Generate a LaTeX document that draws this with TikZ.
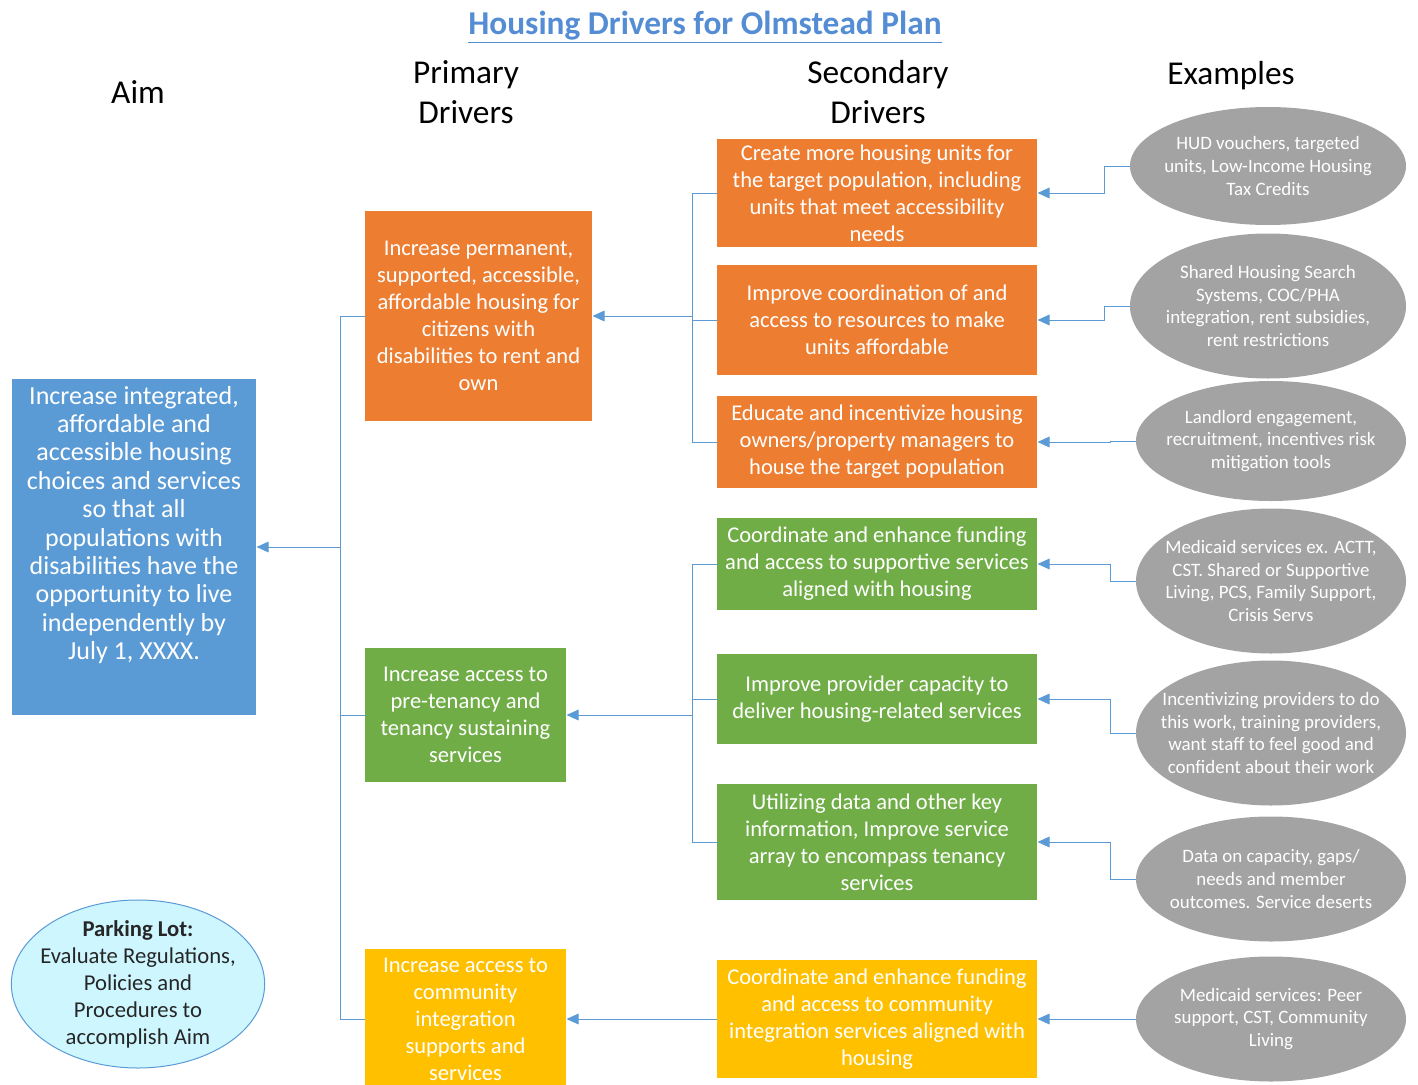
\documentclass[tikz,border=0pt]{standalone}
\usepackage{fontspec}
\setmainfont{Carlito}
\usetikzlibrary{shapes.geometric,arrows.meta}

\definecolor{aimblue}{RGB}{91,155,213}
\definecolor{drvorange}{RGB}{237,125,49}
\definecolor{drvgreen}{RGB}{112,173,71}
\definecolor{drvyellow}{RGB}{255,192,0}
\definecolor{exgrey}{RGB}{163,163,163}
\definecolor{parkcyan}{RGB}{206,246,255}
\definecolor{connblue}{RGB}{91,155,213}
\definecolor{titleblue}{RGB}{84,141,212}

\tikzset{every picture/.style={line width=0.75pt}}
\tikzset{
  drvbox/.style={rectangle, inner sep=0pt, align=center, text=white},
  aimbox/.style={drvbox, fill=aimblue},
  aimtext/.style={align=center, text=white, font=\fontsize{19.5}{21.3}\selectfont},
  primbox/.style={drvbox, font=\fontsize{16.9}{20.25}\selectfont},
  secbox/.style={drvbox, minimum width=240pt, font=\fontsize{16.9}{20.25}\selectfont},
  exnode/.style={ellipse, fill=exgrey, inner sep=0pt},
  extext/.style={align=center, text=white, font=\fontsize{14.2}{16.9}\selectfont},
  parknode/.style={ellipse, fill=parkcyan, draw=connblue, inner sep=0pt},
  parktext/.style={align=center, text=black!85, font=\fontsize{17}{20.25}\selectfont},
  header/.style={align=center, font=\fontsize{25}{30}\selectfont},
  conn/.style={draw=connblue, line width=0.75pt},
  arrconn/.style={conn, -{Triangle[length=9pt,width=8pt]}},
}

\begin{document}
\begin{tikzpicture}[x=0.75pt,y=0.75pt,yscale=-1,xscale=1]
\useasboundingbox (0,0) rectangle (1418,1085);

% title and column heads
\node[text=titleblue, font=\fontsize{25}{30}\selectfont\bfseries] (title) at (705,27) {\underline{Housing Drivers for Olmstead Plan}};
\node[header] (haim) at (138,92) {Aim};
\node[header] (hprim) at (466,92) {Primary\\Drivers};
\node[header] (hsec) at (878,92) {Secondary\\Drivers};
\node[header] (hex) at (1231,76) {Examples};

% aim
\node[aimbox, minimum width=183pt, minimum height=252pt] (aim) at (134,547) {};
\node[aimtext, anchor=north] (aimtxt) at ([yshift=2pt]aim.north) {Increase integrated,\\affordable and\\accessible housing\\choices and services\\so that all\\populations with\\disabilities have the\\opportunity to live\\independently by\\July 1, XXXX.};

% primary drivers
\node[primbox, fill=drvorange, minimum width=170.25pt, minimum height=157.5pt] (p1) at (478.5,316) {Increase permanent,\\supported, accessible,\\affordable housing for\\citizens with\\disabilities to rent and\\own};
\node[primbox, fill=drvgreen, minimum width=150.75pt, minimum height=100.5pt] (p2) at (465.5,715) {Increase access to\\pre-tenancy and\\tenancy sustaining\\services};
\node[primbox, fill=drvyellow, minimum width=150.75pt, minimum height=105pt] (p3) at (465.5,1019) {Increase access to\\community\\integration\\supports and\\services};

% secondary drivers
\node[secbox, fill=drvorange, minimum height=81pt] (s1) at (877,193) {Create more housing units for\\the target population, including\\units that meet accessibility\\needs};
\node[secbox, fill=drvorange, minimum height=82.5pt] (s2) at (877,320) {Improve coordination of and\\access to resources to make\\units affordable};
\node[secbox, fill=drvorange, minimum height=69pt] (s3) at (877,442) {Educate and incentivize housing\\owners/property managers to\\house the target population};
\node[secbox, fill=drvgreen, minimum height=69pt] (s4) at (877,564) {Coordinate and enhance funding\\and access to supportive services\\aligned with housing};
\node[secbox, fill=drvgreen, minimum height=67.5pt] (s5) at (877,699) {Improve provider capacity to\\deliver housing-related services};
\node[secbox, fill=drvgreen, minimum height=87pt] (s6) at (877,842) {Utilizing data and other key\\information, Improve service\\array to encompass tenancy\\services};
\node[secbox, fill=drvyellow, minimum height=88.5pt] (s7) at (877,1019) {Coordinate and enhance funding\\and access to community\\integration services aligned with\\housing};

% examples
\node[exnode, minimum width=207pt, minimum height=88.5pt, label={[extext]center:{HUD vouchers, targeted\\units, Low-Income Housing\\Tax Credits}}] (e1) at (1268,166) {};
\node[exnode, minimum width=207pt, minimum height=108.75pt, label={[extext]center:{Shared Housing Search\\Systems, COC/PHA\\integration, rent subsidies,\\rent restrictions}}] (e2) at (1268,306) {};
\node[exnode, minimum width=202.5pt, minimum height=90pt, label={[extext]center:{Landlord engagement,\\recruitment, incentives risk\\mitigation tools}}] (e3) at (1271,441) {};
\node[exnode, minimum width=202.5pt, minimum height=108.75pt, label={[extext]center:{Medicaid services ex. ACTT,\\CST. Shared or Supportive\\Living, PCS, Family Support,\\Crisis Servs}}] (e4) at (1271,581) {};
\node[exnode, minimum width=202.5pt, minimum height=108.75pt, label={[extext]center:{Incentivizing providers to do\\this work, training providers,\\want staff to feel good and\\confident about their work}}] (e5) at (1271,733) {};
\node[exnode, minimum width=202.5pt, minimum height=93.75pt, label={[extext]center:{Data on capacity, gaps/\\needs and member\\outcomes. Service deserts}}] (e6) at (1271,879) {};
\node[exnode, minimum width=202.5pt, minimum height=93.75pt, label={[extext]center:{Medicaid services: Peer\\support, CST, Community\\Living}}] (e7) at (1271,1019) {};

% parking lot
\node[parknode, minimum width=190pt, minimum height=126pt, label={[parktext]center:{\textbf{Parking Lot:}\\Evaluate Regulations,\\Policies and\\Procedures to\\accomplish Aim}}] (park) at (138,984) {};

% primary to aim
\coordinate (aimjoin) at (340,547);
\draw[arrconn] (aimjoin) -- (aim.east);
\draw[conn] (aimjoin |- p1.west) -- (aimjoin |- p3.west);
\foreach \p in {p1,p2,p3}
  \draw[conn] (aimjoin |- \p.west) -- (\p.west);

% secondary to primary
\coordinate (orjoin) at (692,316);
\draw[arrconn] (orjoin) -- (p1.east);
\draw[conn] (orjoin |- s1.west) -- (orjoin |- s3.west);
\foreach \s in {s1,s2,s3}
  \draw[conn] (orjoin |- \s.west) -- (\s.west);

\coordinate (grjoin) at (692,715);
\draw[arrconn] (grjoin) -- (p2.east);
\draw[conn] (grjoin |- s4.west) -- (grjoin |- s6.west);
\foreach \s in {s4,s5,s6}
  \draw[conn] (grjoin |- \s.west) -- (\s.west);

\draw[arrconn] (s7.west) -- (s7.west -| p3.east);

% examples to secondary
\foreach \e/\s in {e1/s1,e2/s2,e3/s3,e4/s4,e5/s5,e6/s6,e7/s7}
  \draw[arrconn] (\e.west) -- ++(-25,0) |- (\s.east);

\end{tikzpicture}
\end{document}
